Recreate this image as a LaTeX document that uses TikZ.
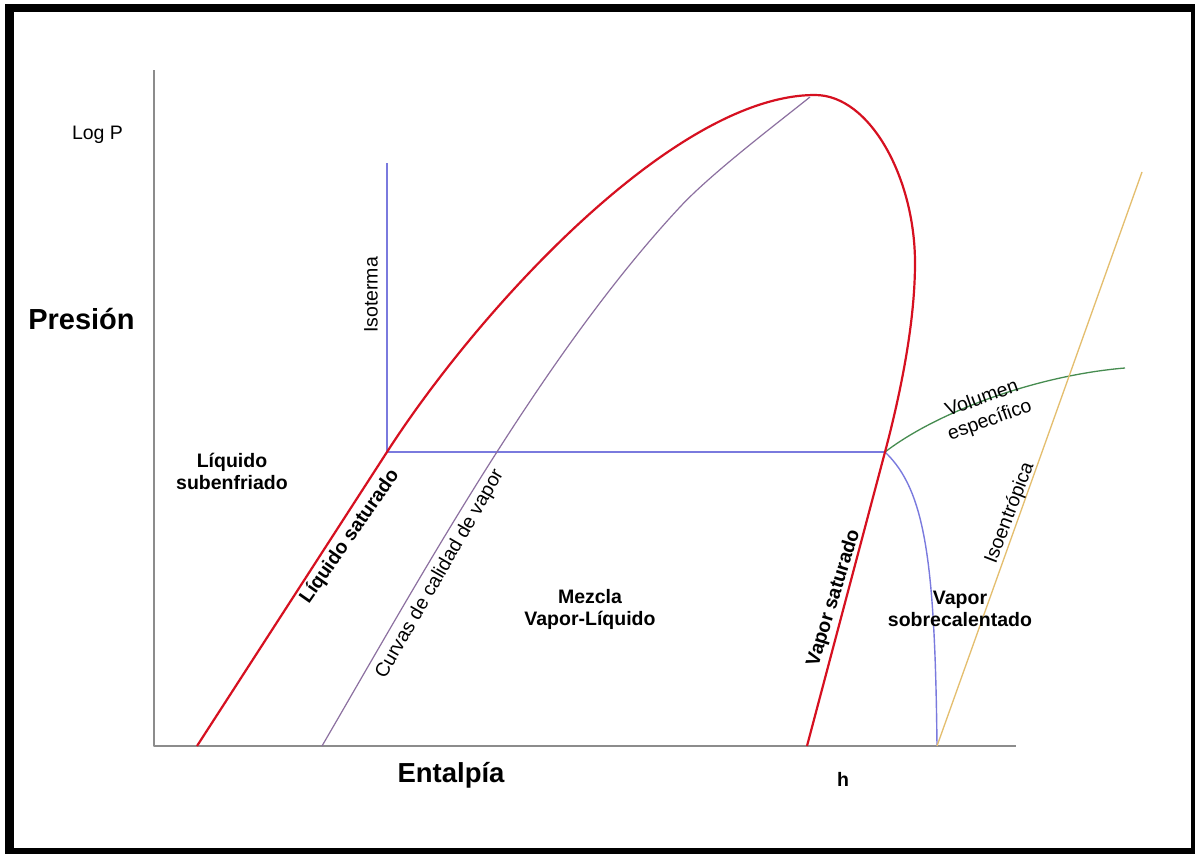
\documentclass[tikz,border=0pt]{standalone}
\usepackage{fontspec}
\setmainfont{Liberation Sans}
\definecolor{satred}{RGB}{214,16,32}
\definecolor{isoblue}{RGB}{122,122,222}
\definecolor{qualpurple}{RGB}{140,112,160}
\definecolor{volgreen}{RGB}{70,140,80}
\definecolor{sentyellow}{RGB}{228,190,110}
\definecolor{axisgray}{RGB}{140,140,140}
\begin{document}
\begin{tikzpicture}[x=1pt, y=-1pt, line join=round,
            lbl/.style={inner sep=0pt, font=\fontsize{19.5}{23}\selectfont, align=center},
            blbl/.style={lbl, font=\fontsize{19.5}{22}\selectfont\bfseries},
            axis/.style={draw=axisgray, line width=2pt},
            sat/.style={draw=satred, line width=2.2pt},
            iso/.style={draw=isoblue, line width=1.6pt}]
            \useasboundingbox (0,0) rectangle (1195,854);
            \fill[black] (5,4) rectangle (1195,854);
            \fill[white] (14,12) rectangle (1191,848);

            \coordinate (ytop) at (154, 70);
            \coordinate (orig) at (154, 746);
            \coordinate (xend) at (1016, 746);
            \coordinate (liqbot) at (197, 746);
            \coordinate (liqiso) at (387, 452);
            \coordinate (crit) at (815, 95);
            \coordinate (vapmax) at (915, 263);
            \coordinate (vapiso) at (885, 452);
            \coordinate (vapbot) at (807, 746);
            \coordinate (isotop) at (387, 163);
            \coordinate (qualbot) at (322, 746);
            \coordinate (qualmid) at (680, 207);
            \coordinate (qualtop) at (810, 97);
            \coordinate (supbot) at (937, 746);
            \coordinate (volend) at (1125, 368);
            \coordinate (senttop) at (1142, 172);

            \draw[axis] (ytop) -- (orig) -- (xend);

            \draw[iso] (isotop) -- (liqiso) -- (vapiso);
            \draw[iso, line width=1.4pt] (vapiso) .. controls (925, 490) and (935, 560) .. (supbot);
            \draw[qualpurple, line width=1.2pt] (qualbot) .. controls (422.6, 573.2) and (544, 353) .. (qualmid)
                .. controls (710.6, 174) and (775, 125) .. (qualtop);
            \draw[volgreen, line width=1.3pt] (vapiso) .. controls (940, 410) and (1040, 375) .. (volend);
            \draw[sentyellow, line width=1.3pt] (supbot) -- (senttop);
            \draw[sat] (liqbot) -- (liqiso) .. controls (479, 309) and (675, 95) .. (crit)
                .. controls (870, 95) and (915, 178) .. (vapmax)
                .. controls (915, 323) and (900.4, 394) .. (vapiso) -- (vapbot);

            \node[lbl, anchor=base] (logp) at (97.5, 139) {Log P};
            \node[blbl, font=\fontsize{29}{29}\selectfont\bfseries, anchor=base] (pres) at (81.5, 329) {Presión};
            \node[blbl, font=\fontsize{27.5}{27.5}\selectfont\bfseries, anchor=base] (ental) at (451, 782) {Entalpía};
            \node[blbl, anchor=base] (h) at (843, 786) {h};

            \node[blbl] (subenf) at (232, 471) {Líquido\\subenfriado};
            \node[blbl] (mezcla) at (590, 609) {Mezcla\\Vapor-Líquido};
            \node[blbl] (sobrec) at (960, 609) {Vapor\\sobrecalentado};

            \node[lbl, rotate=90] (isoterma) at (371, 295) {Isoterma};
            \node[blbl, rotate=55] (liqsat) at (350, 537) {Líquido saturado};
            \node[lbl, rotate=60] (curvas) at (440, 574) {Curvas de calidad de vapor};
            \node[blbl, rotate=73] (vapsat) at (834, 598) {Vapor saturado};
            \node[lbl, rotate=69] (isoent) at (1010, 513) {Isoentrópica};
            \node[lbl, rotate=20] (volesp) at (986, 410) {Volumen\\específico};
\end{tikzpicture}
\end{document}
